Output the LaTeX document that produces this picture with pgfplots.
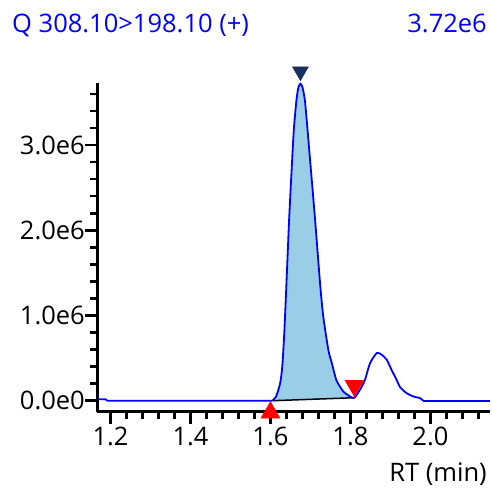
\documentclass[border=0pt]{standalone}
\usepackage{pgfplots}
\pgfplotsset{compat=1.18}
\usepackage{fontspec}
\setmainfont{Open Sans}
\definecolor{peakfill}{HTML}{9ACDE6}
\definecolor{apexnavy}{HTML}{17305F}
\newcommand{\lblfont}{\fontsize{25.5bp}{30bp}\selectfont}
\begin{document}
\begin{tikzpicture}
\path[use as bounding box] (0,0) rectangle (492bp,489bp);
\begin{axis}[
    at={(97.3bp,77.3bp)}, anchor=south west,
    scale only axis, width=392.7bp, height=328.7bp,
    xmin=1.167, xmax=2.149, ymin=-0.129, ymax=3.729,
    axis x line=bottom, axis y line=left,
    axis line style={-, black, line width=2.5bp},
    tick align=outside,
    major tick length=12bp, minor tick length=7bp,
    every tick/.style={black, line width=2.5bp},
    xtick={1.2,1.4,1.6,1.8,2.0},
    xticklabels={1.2,1.4,1.6,1.8,2.0},
    minor xtick={1.24,1.28,1.32,1.36,1.44,1.48,1.52,1.56,1.64,1.68,1.72,1.76,1.84,1.88,1.92,1.96,2.04,2.08,2.12},
    ytick={0,1,2,3},
    yticklabels={0.0e0,1.0e6,2.0e6,3.0e6},
    minor ytick={0.2,0.4,0.6,0.8,1.2,1.4,1.6,1.8,2.2,2.4,2.6,2.8,3.2,3.4,3.6},
    ticklabel style={font=\lblfont},
    yticklabel style={xshift=3bp},
    clip=false,
]
% integrated area of the main peak
\addplot[draw=none, fill=peakfill, smooth, tension=0.4] coordinates {
    (1.605,0) (1.614,0.05) (1.624,0.20) (1.6295,0.40) (1.6345,0.79)
    (1.640,1.38) (1.647,2.16) (1.6555,2.94) (1.659,3.22) (1.665,3.53)
    (1.670,3.68) (1.675,3.72) (1.680,3.68) (1.686,3.53) (1.692,3.22)
    (1.697,2.94) (1.711,2.16) (1.724,1.38) (1.732,0.99) (1.745,0.59)
    (1.753,0.45) (1.765,0.24) (1.782,0.11) (1.799,0.05) (1.810,0.035)
};
% integration baseline
\addplot[black, line width=1.5bp] coordinates {(1.605,0) (1.810,0.035)};
% chromatogram trace
\addplot[blue, line width=1.8bp] coordinates {
    (1.167,0.016) (1.188,0.016) (1.192,0) (1.605,0)};
\addplot[blue, line width=1.8bp, smooth, tension=0.4] coordinates {
    (1.605,0) (1.614,0.05) (1.624,0.20) (1.6295,0.40) (1.6345,0.79)
    (1.640,1.38) (1.647,2.16) (1.6555,2.94) (1.659,3.22) (1.665,3.53)
    (1.670,3.68) (1.675,3.72) (1.680,3.68) (1.686,3.53) (1.692,3.22)
    (1.697,2.94) (1.711,2.16) (1.724,1.38) (1.732,0.99) (1.745,0.59)
    (1.753,0.45) (1.765,0.24) (1.782,0.11) (1.799,0.05) (1.810,0.035)
    (1.824,0.13) (1.836,0.24) (1.849,0.44) (1.866,0.56) (1.878,0.54)
    (1.891,0.48) (1.903,0.36) (1.916,0.24) (1.924,0.16) (1.940,0.09)
    (1.957,0.05) (1.974,0.03) (1.982,0)};
\addplot[blue, line width=1.8bp] coordinates {(1.982,0) (2.149,0)};
% peak start / end / apex markers
\addplot[only marks, mark=triangle*, mark size=11bp, red] coordinates {(1.600,-0.14)};
\addplot[only marks, mark=triangle*, mark size=11bp, red, mark options={rotate=180}] coordinates {(1.810,0.176)};
\addplot[only marks, mark=triangle*, mark size=9.2bp, apexnavy, mark options={rotate=180}] coordinates {(1.675,3.864)};
\end{axis}
\node[anchor=base west, inner sep=0, text=blue, font=\lblfont] at (12bp,456bp) {Q 308.10>198.10 (+)};
\node[anchor=base east, inner sep=0, text=blue, font=\lblfont] at (487bp,456bp) {3.72e6};
\node[anchor=base east, inner sep=0, font=\lblfont] at (487bp,7.3bp) {RT (min)};
\end{tikzpicture}
\end{document}
